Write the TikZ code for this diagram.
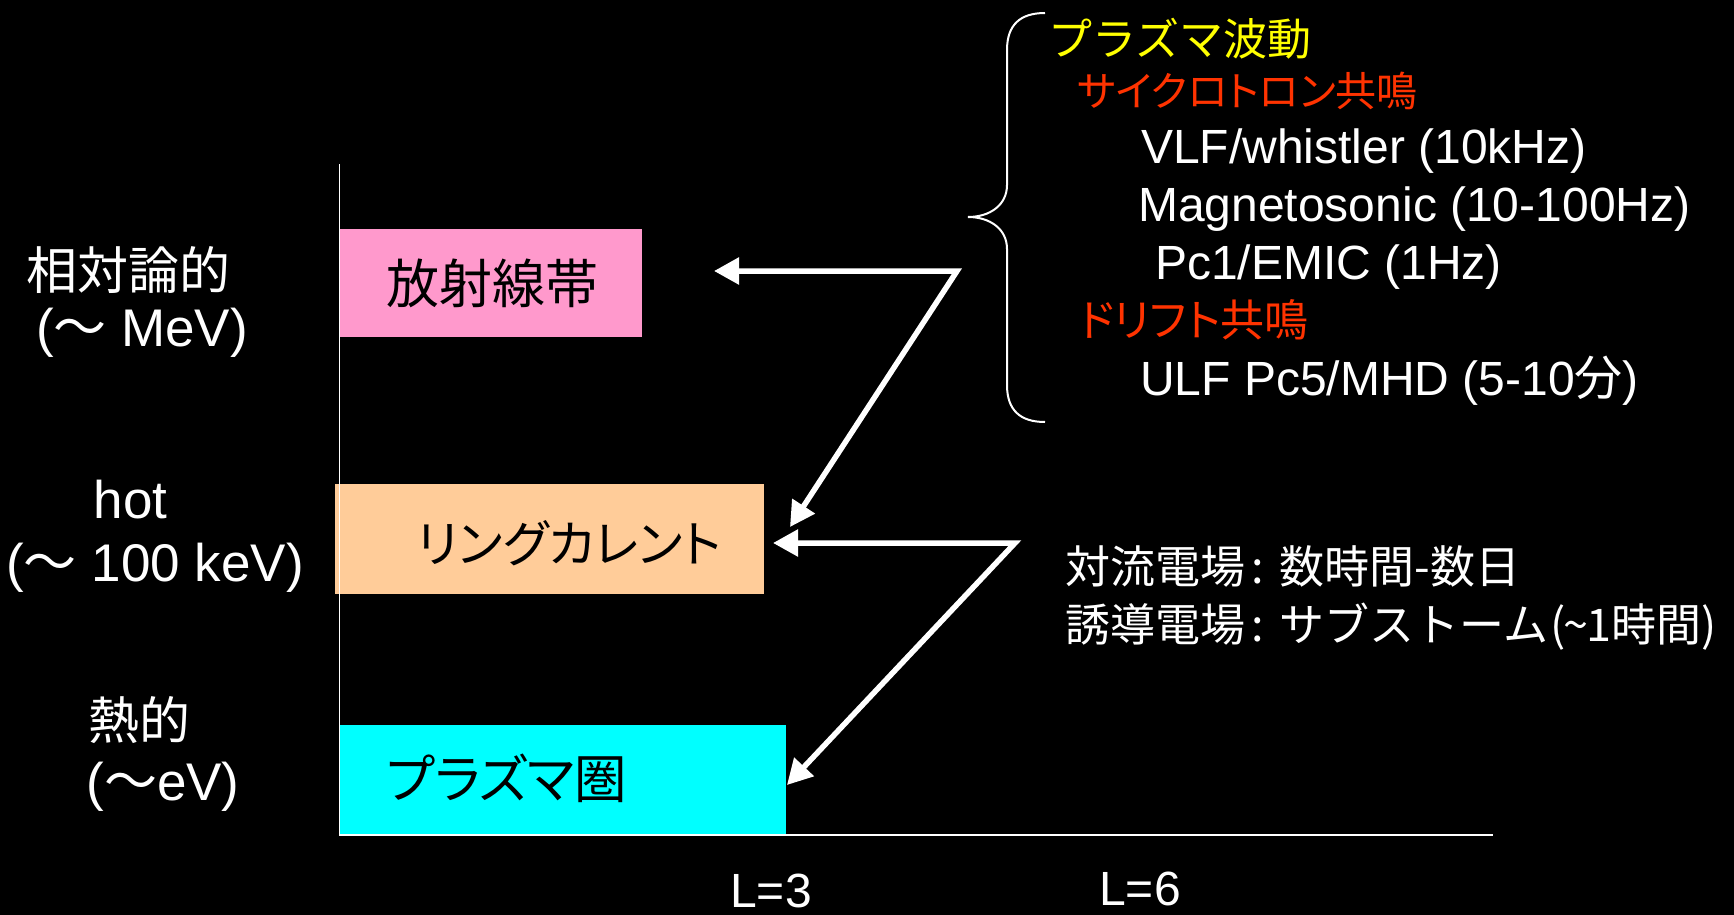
\documentclass[tikz,border=0pt]{standalone}
\usepackage{fontspec}
\setmainfont{Liberation Sans}
\newfontfamily\jp{Noto Sans CJK JP}
\newfontfamily\jpp{Noto Sans CJK JP}[RawFeature=+palt]
\usetikzlibrary{arrows.meta}
\definecolor{pinkbox}{RGB}{255,153,204}
\definecolor{peachbox}{RGB}{255,204,153}
\definecolor{cyanbox}{RGB}{0,255,255}
\definecolor{wavey}{RGB}{255,255,0}
\definecolor{resred}{RGB}{255,51,0}
\begin{document}
\begin{tikzpicture}[x=1pt,y=-1pt,
  fs/.style={font=\fontsize{#1}{#1}\selectfont},
  lbl/.style={text=white, inner sep=0pt},
  band/.style={draw=none, inner sep=0pt, anchor=north west},
  boxtext/.style={text=black, inner sep=0pt},
  axisline/.style={draw=white, line width=1.5pt},
  bigarrow/.style={draw=white, line width=5.5pt, line join=miter,
     arrows={Triangle[length=25pt,width=26pt]-Triangle[length=25pt,width=26pt]}},
  bracel/.style={draw=white, line width=2pt}
]
\fill[black] (0,0) rectangle (1734,915);
\useasboundingbox (0,0) rectangle (1734,915);

% bands
\node[band, fill=pinkbox, minimum width=302pt, minimum height=108pt] (rb) at (339.5,229) {};
\node[band, fill=peachbox, minimum width=429pt, minimum height=110pt] (rc) at (335,484) {};
\node[band, fill=cyanbox, minimum width=446.5pt, minimum height=110pt] (ps) at (339.5,725) {};

\node[boxtext, fs=53] (rbt) at (492,283.5) {\jp 放射線帯};
\node[boxtext, fs=50] (rct) at (569.5,543) {\jpp リングカレント};
\node[boxtext, fs=52.5] (pst) at (507,778) {\jpp プラズマ圏};

% axes
\coordinate (ytop) at (339.5,164);
\coordinate (origin) at (339.5,835);
\coordinate (xend) at (1493,835);
\draw[axisline] (ytop) -- (origin) -- (xend);

% left labels
\node[lbl, fs=51, anchor=base] (l1a) at (128,289) {\jp 相対論的};
\node[lbl, fs=53, anchor=base] (l1b) at (142,346) {({\jp ～} MeV)};
\node[lbl, fs=53, anchor=base] (l2a) at (130.5,518) {hot};
\node[lbl, fs=53, anchor=base] (l2b) at (155,581) {({\jp ～} 100 keV)};
\node[lbl, fs=51, anchor=base] (l3a) at (139,739) {\jp 熱的};
\node[lbl, fs=53, anchor=base] (l3b) at (163,800) {({\jp ～}eV)};

% L labels
\node[lbl, fs=48, anchor=base] (L3) at (771,907) {L=3};
\node[lbl, fs=48, anchor=base] (L6) at (1140,905) {L=6};

% brace
\draw[bracel] (1045,13) .. controls (1020,13) and (1007,25) .. (1007,50)
  -- (1007,185) .. controls (1007,205) and (990,217) .. (968,217)
  .. controls (990,217) and (1007,229) .. (1007,249)
  -- (1007,385) .. controls (1007,410) and (1020,422) .. (1045,422);

% right text column
\node[lbl, text=wavey, fs=44, anchor=base west] (pw) at (1048,56) {\jp プラズマ波動};
\node[lbl, text=resred, fs=41, anchor=base west] (cr) at (1077,107) {\jpp サイクロトロン共鳴};
\node[lbl, fs=48, anchor=base west] (vlf) at (1141,163) {VLF/whistler (10kHz)};
\node[lbl, fs=48, anchor=base west] (ms) at (1138,221) {Magnetosonic (10-100Hz)};
\node[lbl, fs=48, anchor=base west] (pc1) at (1155,279) {Pc1/EMIC (1Hz)};
\node[lbl, text=resred, fs=44, anchor=base west] (dr) at (1079,336) {\jpp ドリフト共鳴};
\node[lbl, fs=48, anchor=base west] (ulf) at (1140,395) {ULF Pc5/MHD (5-10{\jp 分})};

% electric field text
\node[lbl, fs=45, anchor=base west] (ef1) at (1065,583)
  {\jp 対流電場\hspace{6pt}:\hspace{16pt}数時間-数日};
\node[lbl, fs=45, anchor=base west] (ef2) at (1065,641)
  {\jp 誘導電場\hspace{6pt}:\hspace{16pt}サブストーム\hspace{2pt}(\kern-2pt\textasciitilde\kern-2pt 1時間)};

% arrows
\coordinate (a1tip) at (714,271);
\coordinate (a1c) at (957,271);
\coordinate (a1end) at (790,527);
\draw[bigarrow] (a1tip) -- (a1c) -- (a1end);
\coordinate (a2tip) at (773,543);
\coordinate (a2c) at (1015,543);
\coordinate (a2end) at (787,785);
\draw[bigarrow] (a2tip) -- (a2c) -- (a2end);
\end{tikzpicture}
\end{document}
